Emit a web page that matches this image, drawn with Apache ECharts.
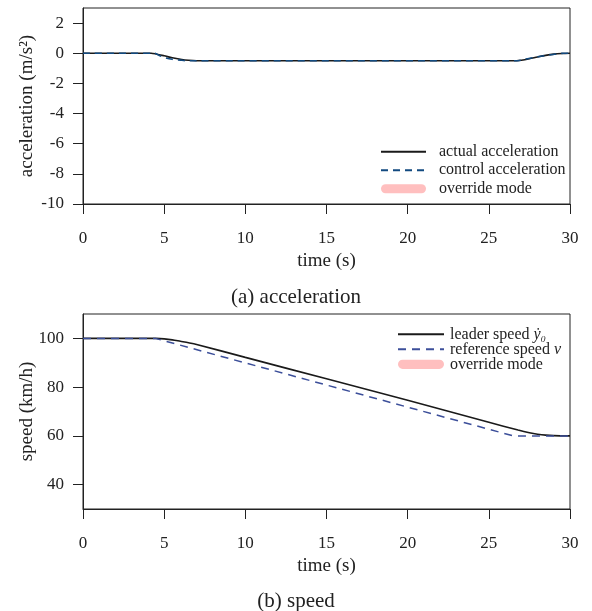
<!DOCTYPE html>
<html>
<head>
<meta charset="utf-8">
<script src="https://cdn.jsdelivr.net/npm/echarts@6/dist/echarts.min.js"></script>
<style>
html,body{margin:0;padding:0;background:#fff;}
#chart{width:592px;height:611px;}
</style>
</head>
<body>
<div id="chart"></div>
<script>
// ---- data ----
const timeTicks = [0, 5, 10, 15, 20, 25, 30];
const accTicks = [-10, -8, -6, -4, -2, 0, 2];
const speedTicks = [40, 60, 80, 100];

const actualAccTime = [0, 4.2, 4.5, 5, 5.5, 6, 6.5, 7, 26.7, 27, 27.5, 28, 28.5, 29, 29.5, 30];
const actualAcc     = [0, 0, -0.05, -0.17, -0.3, -0.4, -0.47, -0.5, -0.5, -0.47, -0.37, -0.25, -0.14, -0.06, -0.02, 0];

const controlAccTime = [0, 4.4, 4.7, 5, 5.5, 6, 6.5, 26.8, 27.2, 27.7, 28.2, 28.7, 29.2, 29.6, 30];
const controlAcc     = [0, 0, -0.15, -0.28, -0.4, -0.46, -0.5, -0.5, -0.4, -0.3, -0.2, -0.12, -0.05, 0, 0];

const leaderTime  = [0, 4.5, 5, 5.5, 6, 6.5, 7, 10, 15, 20, 25, 26.8, 27.5, 28, 28.5, 29, 30];
const leaderSpeed = [100, 100, 99.8, 99.4, 98.8, 98.2, 97.5, 92.2, 83.4, 74.6, 65.6, 62.4, 61.3, 60.7, 60.3, 60.1, 60];

const refTime  = [0, 4.45, 26.5, 30];
const refSpeed = [100, 100, 60, 60];

const zip = (xs, ys) => xs.map((x, i) => [x, ys[i]]);

const FONT = "'Liberation Serif', 'DejaVu Serif', serif";
const INK = '#222';
const PINK = '#ffbfbf';
const PILL = 'path://M5,0L45,0A5,5,0,0,1,45,10L5,10A5,5,0,0,1,5,0Z';

function xAxisCfg(gridIndex) {
  return {
    type: 'value', gridIndex, min: 0, max: 30, interval: 5,
    name: 'time (s)', nameLocation: 'middle', nameGap: 48, nameMoveOverlap: false,
    nameTextStyle: {fontFamily: FONT, fontSize: 19, color: INK},
    axisLine: {onZero: false, lineStyle: {color: INK, width: 1}},
    axisTick: {show: true, inside: false, length: 10, lineStyle: {color: INK, width: 1}},
    axisLabel: {margin: 26, fontFamily: FONT, fontSize: 17, color: INK, customValues: timeTicks},
    splitLine: {show: false}
  };
}
function yAxisCfg(gridIndex, min, max, ticks, name) {
  return {
    type: 'value', gridIndex, min, max,
    name, nameLocation: 'middle', nameGap: 46.5, nameMoveOverlap: false,
    nameTextStyle: {fontFamily: FONT, fontSize: 19, color: INK},
    axisLine: {show: true, onZero: false, lineStyle: {color: INK, width: 1}},
    axisTick: {show: true, inside: false, length: 10, lineStyle: {color: INK, width: 1}, customValues: ticks},
    axisLabel: {margin: 19, fontFamily: FONT, fontSize: 17, color: INK, customValues: ticks},
    splitLine: {show: false}
  };
}

const hideSym = {opacity: 0};

const chart = echarts.init(document.getElementById('chart'), null, {renderer: 'canvas'});
chart.setOption({
  animation: false,
  backgroundColor: '#fff',
  title: [
    {text: '(a) acceleration', left: 'center', top: 287, padding: 0,
     textStyle: {fontFamily: FONT, fontSize: 21, fontWeight: 'normal', color: INK}},
    {text: '(b) speed', left: 'center', top: 591, padding: 0,
     textStyle: {fontFamily: FONT, fontSize: 21, fontWeight: 'normal', color: INK}}
  ],
  grid: [
    {left: 83, right: 22, top: 8, height: 196, show: true, borderColor: INK, borderWidth: 1, backgroundColor: 'transparent'},
    {left: 83, right: 22, top: 314, height: 195, show: true, borderColor: INK, borderWidth: 1, backgroundColor: 'transparent'}
  ],
  xAxis: [xAxisCfg(0), xAxisCfg(1)],
  yAxis: [
    yAxisCfg(0, -10, 3, accTicks, 'acceleration (m/s²)'),
    yAxisCfg(1, 30, 110, speedTicks, 'speed (km/h)')
  ],
  legend: [
    {
      data: [
        {name: 'actual acceleration', itemStyle: hideSym},
        {name: 'control acceleration', itemStyle: hideSym},
        {name: 'override mode', icon: PILL}
      ],
      orient: 'vertical', left: 380, top: 143.7, padding: 0,
      itemWidth: 45, itemHeight: 10, itemGap: 2.5,
      selectedMode: false,
      textStyle: {fontFamily: FONT, fontSize: 16, color: INK, lineHeight: 14, padding: [0, 0, 0, 8]}
    },
    {
      data: [
        {name: 'leader speed', itemStyle: hideSym},
        {name: 'reference speed', itemStyle: hideSym},
        {name: 'override mode', icon: PILL}
      ],
      orient: 'vertical', left: 397, top: 326.3, padding: 0,
      itemWidth: 46, itemHeight: 10, itemGap: -1,
      selectedMode: false,
      formatter: function (name) {
        if (name === 'leader speed') return 'leader speed {i|ẏ₀}';
        if (name === 'reference speed') return 'reference speed {i|v}';
        return name;
      },
      textStyle: {
        fontFamily: FONT, fontSize: 16, color: INK, lineHeight: 14, padding: [0, 0, 0, 1],
        rich: {i: {fontFamily: FONT, fontSize: 16, fontStyle: 'italic', color: INK, lineHeight: 14}}
      }
    }
  ],
  series: [
    {name: 'override mode', type: 'line', xAxisIndex: 0, yAxisIndex: 0, data: [], symbol: 'none',
     color: PINK, lineStyle: {width: 10, color: PINK}},
    {name: 'actual acceleration', type: 'line', xAxisIndex: 0, yAxisIndex: 0,
     data: zip(actualAccTime, actualAcc), symbol: 'none', smooth: 0.3, color: '#1a1a1a',
     lineStyle: {width: 1.6, color: '#1a1a1a'}, z: 3},
    {name: 'control acceleration', type: 'line', xAxisIndex: 0, yAxisIndex: 0,
     data: zip(controlAccTime, controlAcc), symbol: 'none', smooth: 0.3, color: '#124a80',
     lineStyle: {width: 1.6, color: '#124a80', type: [7, 5]}, z: 4},
    {name: 'leader speed', type: 'line', xAxisIndex: 1, yAxisIndex: 1,
     data: zip(leaderTime, leaderSpeed), symbol: 'none', smooth: 0.3, color: '#1a1a1a',
     lineStyle: {width: 1.6, color: '#1a1a1a'}, z: 3},
    {name: 'reference speed', type: 'line', xAxisIndex: 1, yAxisIndex: 1,
     data: zip(refTime, refSpeed), symbol: 'none', color: '#3c4f9a',
     lineStyle: {width: 1.5, color: '#3c4f9a', type: [8, 6]}, z: 4}
  ]
});
</script>
</body>
</html>
